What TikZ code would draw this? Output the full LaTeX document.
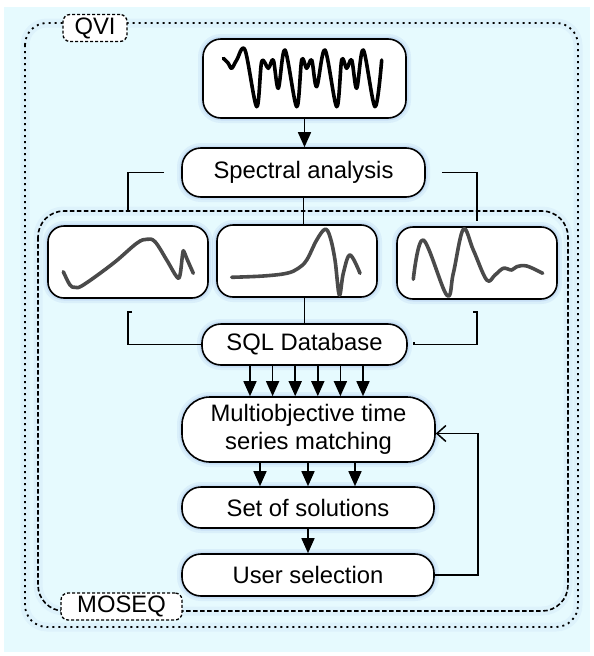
\documentclass[tikz,border=0pt]{standalone}
\usepackage{fontspec}
\setmainfont{Liberation Sans}
\usetikzlibrary{arrows.meta}
\definecolor{bgcyan}{HTML}{E6FAFE}
\definecolor{glowblue}{HTML}{6F8FE0}
\definecolor{wavegray}{HTML}{4A4A4A}

\begin{document}
\begin{tikzpicture}[x=1pt, y=-1pt,
  font=\fontsize{23.8}{28}\selectfont,
  halo/.style={preaction={draw=glowblue, solid, draw opacity=.10, line width=10pt},
    preaction={draw=glowblue, solid, draw opacity=.16, line width=5pt}},
  framehalo/.style={preaction={draw=glowblue, solid, draw opacity=.07, line width=9pt}},
  pill/.style={draw, line width=1.6pt, fill=white, rounded corners=19pt, inner sep=0pt, halo},
  wavebox/.style={pill, rounded corners=16pt, minimum width=160pt, minimum height=72pt},
  tag/.style={draw, line width=1.3pt, dash pattern=on 3pt off 2pt, fill=white,
    rounded corners=7pt, inner sep=0pt, minimum height=27pt},
  conn/.style={line width=1.5pt},
  arr/.style={conn, -{Triangle[width=13pt,length=15pt]}},
  wavy/.style={line width=3.6pt, line cap=round, line join=round, wavegray}]
    \useasboundingbox (0,0) rectangle (594,656);
    \fill[bgcyan] (4,7) rectangle (590,652);
    \draw[framehalo, line width=1.8pt, dash pattern=on 2pt off 4pt, rounded corners=22pt]
        (25,23) rectangle (578,627);
    \draw[framehalo, line width=1.6pt, dash pattern=on 4.5pt off 2.5pt, rounded corners=26pt]
        (38,211) rectangle (568,611);

    \node[pill, rounded corners=18pt, minimum width=203pt, minimum height=79pt] (signal) at (304.5,78.5) {};
    \node[pill, minimum width=243pt, minimum height=49pt] (spectral) at (303.5,172.5) {Spectral analysis};
    \node[wavebox] (bandL) at (128,262) {};
    \node[wavebox] (bandM) at (297,261) {};
    \node[wavebox] (bandR) at (477,263) {};
    \node[pill, minimum width=205pt, minimum height=41pt] (sqldb) at (304.5,344.5) {SQL Database};
    \node[pill, rounded corners=28pt, minimum width=253pt, minimum height=65pt, align=center]
        (matching) at (308.5,429.5) {Multiobjective time\\series matching};
    \node[pill, minimum width=252pt, minimum height=41pt] (solutions) at (308,507.5) {Set of solutions};
    \node[pill, minimum width=252pt, minimum height=42pt] (selection) at (308,575) {User selection};

    \draw[wavy, black] plot[smooth, tension=.55] coordinates {(223.3,58.3) (228.3,63.3) (231.7,68.3)
        (236.7,60) (245,50) (256.7,106.7) (261.7,61.7) (268.3,68.3) (273.3,60) (278.3,88.3) (285,50)
        (296.7,106.7) (301.7,60) (306.7,68.3) (311.7,60) (316.7,86.7) (325,50) (336.7,106.7)
        (341.7,60) (346.7,68.3) (351.7,60) (356.7,88.3) (363.3,50) (375,106.7) (381.7,60)};
    \draw[wavy] plot[smooth, tension=.6] coordinates {(63.3,271.7) (70,285) (75,287.3) (83.3,285)
        (113.3,263.3) (136.7,243.3) (146.7,239.3) (155,241.7) (166.7,260) (176.7,276.7) (180,275)
        (182.7,253.3) (184,251.7) (186.7,258.3) (193.3,273.3)};
    \draw[wavy] plot[smooth, tension=.6] coordinates {(231.7,277.3) (263.3,276) (286.7,273.3)
        (298.3,268.3) (306.7,260) (316.7,240) (325,229.3) (330,236.7) (335,260) (339.3,295)
        (343.3,273.3) (350,255) (360,273.3)};
    \draw[wavy] plot[smooth, tension=.6] coordinates {(413.3,279.3) (423.3,240) (446.7,295)
        (453.3,273.3) (463.3,229.3) (473.3,250) (486.7,280) (495,275) (503.3,268.3) (511.7,270)
        (516.7,266.7) (526.7,266) (542.7,273.3)};

    \draw[arr] (signal.south) -- (signal.south |- spectral.north);
    \draw[conn] ([xshift=-17pt]spectral.west) -| ([yshift=13pt]bandL.north);
    \draw[conn] ([xshift=16pt]spectral.east) -| ([yshift=5pt]bandR.north);
    \draw[conn] (spectral.south) -- (spectral.south |- bandM.north);
    \draw[conn] (sqldb.north |- bandM.south) -- (sqldb.north);
    \draw[conn] ([shift={(4pt,-13pt)}]bandL.south) -- ([yshift=-13pt]bandL.south) |- (sqldb.west);
    \draw[conn] ([shift={(-4pt,-12pt)}]bandR.south) -- ([yshift=-12pt]bandR.south)
        |- ([xshift=6pt]sqldb.east) -- ([shift={(6pt,3pt)}]sqldb.east);
    \foreach \dx in {-54.5,-31.9,-9.3,13.3,35.9,58.5}
        \draw[arr] ([xshift=\dx pt]sqldb.south) -- ([xshift=\dx pt]sqldb.south |- matching.north);
    \foreach \dx in {-48,0,47}
        \draw[arr] ([xshift=\dx pt]solutions.north |- matching.south) -- ([xshift=\dx pt]solutions.north);
    \draw[arr] (solutions) -- (selection);
    \draw[conn, -{Straight Barb[length=9pt,width=16pt]}] (selection.east) -- ++(43,0)
        |- ([yshift=-4pt]matching.east);

    \node[tag, minimum width=64pt] (qvi) at (95,28) {QVI};
    \node[tag, minimum width=121pt] (moseq) at (121.5,606.5) {MOSEQ};
\end{tikzpicture}
\end{document}
